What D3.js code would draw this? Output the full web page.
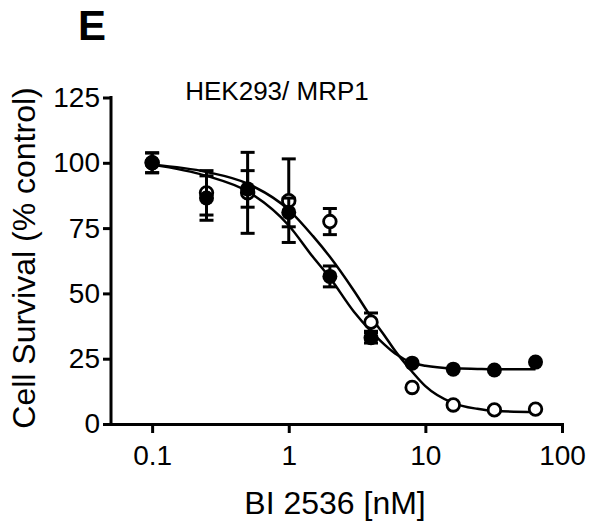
<!DOCTYPE html>
<html>
<head>
<meta charset="utf-8">
<script src="https://cdn.jsdelivr.net/npm/d3@7"></script>
<style>
  body { margin: 0; background: #fff; }
  svg { display: block; font-family: "Liberation Sans", Arial, sans-serif; }
</style>
</head>
<body>
<div id="chart"></div>
<script>
// measured doses (nM)
const dose = [0.1, 0.25, 0.5, 1, 2, 4, 8, 16, 32, 64];
// filled circles
const filledMean = [100, 86.5, 90, 81, 56.5, 33, 23.3, 21, 20.7, 23.7];
const filledErr = [3.8, 8.5, 7, 5.5, 4, 2, 0, 0, 0, 0];
// open circles
const openMean = [100, 88.5, 88.5, 85.5, 77.5, 39, 14, 7.3, 5.4, 5.7];
const openErr = [3.8, 8.5, 15.5, 16, 5, 3.5, 0, 0, 0, 0];

// fitted curves
const fitDose = [0.1, 0.25, 0.5, 1, 1.5, 2, 3, 4, 5, 6, 8, 10, 16, 24, 32, 64];
const fitFilled = [99.3, 95, 89, 76, 64, 56, 43, 35.5, 30.5, 27, 23.5, 22.3, 21.3, 21.1, 21, 21];
const fitOpen = [99.3, 96.5, 92, 82, 72, 64, 51, 41, 34, 28, 20, 14.5, 8, 5.8, 5, 4.6];

const yTicks = [0, 25, 50, 75, 100, 125];
const xTicks = [0.1, 1, 10, 100];

const width = 600, height = 527;
const svg = d3.select('#chart').append('svg')
  .attr('width', width).attr('height', height);

const x = d3.scaleLog().domain([0.05, 100]).range([111, 562]);
const y = d3.scaleLinear().domain([0, 125]).range([424, 97.5]);

// axes
const axisX = svg.append('g')
  .attr('transform', `translate(0,${y(0)})`)
  .call(d3.axisBottom(x).tickValues(xTicks).tickFormat(d3.format('')).tickSize(9).tickSizeOuter(0).tickPadding(12));
const axisY = svg.append('g')
  .attr('transform', `translate(${x(0.05)},0)`)
  .call(d3.axisLeft(y).tickValues(yTicks).tickSize(8).tickSizeOuter(0).tickPadding(3));

[axisX, axisY].forEach(a => {
  a.selectAll('path, line').attr('stroke', '#000').attr('stroke-width', 3).attr('stroke-linecap', 'square');
  a.selectAll('text').attr('fill', '#000').style('font-size', '28px')
    .style('font-family', '"Liberation Sans", Arial, sans-serif');
});
axisX.selectAll('line').attr('stroke-linecap', 'butt');
axisY.selectAll('line').attr('stroke-linecap', 'butt');
axisY.select('path').attr('d', `M0,${y(125)}V${y(0)}`);
axisX.selectAll('text').attr('dy', '0.71em');

// fit curves
const line = d3.line().x((d, i) => x(fitDose[i])).y(d => y(d)).curve(d3.curveMonotoneX);
[fitFilled, fitOpen].forEach(vals => {
  svg.append('path').attr('d', line(vals))
    .attr('fill', 'none').attr('stroke', '#000').attr('stroke-width', 2.5);
});

function drawSeries(mean, err, open) {
  const g = svg.append('g');
  const rows = dose.map((d, i) => ({ d, m: mean[i], e: err[i] }));
  const bars = g.selectAll('.err').data(rows.filter(r => r.e > 0)).join('g');
  bars.append('line')
    .attr('x1', r => x(r.d)).attr('x2', r => x(r.d))
    .attr('y1', r => y(r.m + r.e)).attr('y2', r => y(r.m - r.e));
  bars.append('line')
    .attr('x1', r => x(r.d) - 7).attr('x2', r => x(r.d) + 7)
    .attr('y1', r => y(r.m + r.e)).attr('y2', r => y(r.m + r.e));
  bars.append('line')
    .attr('x1', r => x(r.d) - 7).attr('x2', r => x(r.d) + 7)
    .attr('y1', r => y(r.m - r.e)).attr('y2', r => y(r.m - r.e));
  bars.selectAll('line').attr('stroke', '#000').attr('stroke-width', 3);
  g.selectAll('circle').data(rows).join('circle')
    .attr('cx', r => x(r.d)).attr('cy', r => y(r.m))
    .attr('r', open ? 6.3 : 7.5)
    .attr('fill', open ? '#fff' : '#000')
    .attr('stroke', '#000').attr('stroke-width', open ? 2.8 : 0);
}
drawSeries(openMean, openErr, true);
drawSeries(filledMean, filledErr, false);

// labels
svg.append('text').attr('x', 92).attr('y', 40)
  .attr('text-anchor', 'middle').style('font-size', '42px').style('font-weight', 'bold')
  .text('E');
svg.append('text').attr('x', 277).attr('y', 100)
  .attr('text-anchor', 'middle').style('font-size', '26px')
  .text('HEK293/ MRP1');
svg.append('text').attr('x', 335).attr('y', 514)
  .attr('text-anchor', 'middle').style('font-size', '32px')
  .text('BI 2536 [nM]');
svg.append('text').attr('transform', 'translate(35,258) rotate(-90)')
  .attr('text-anchor', 'middle').style('font-size', '32px')
  .text('Cell Survival (% control)');
</script>
</body>
</html>
